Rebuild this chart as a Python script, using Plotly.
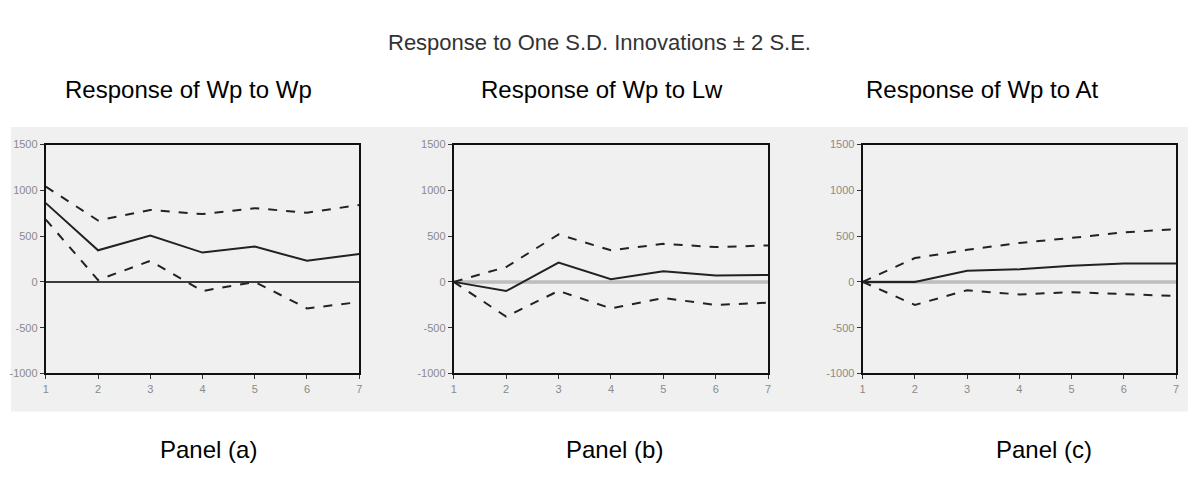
import plotly.graph_objects as go

# page is 1199x479; the html body has an 8px margin, so the figure is 16px smaller
PAGE_W, PAGE_H = 1199, 479
OFF = 8
W, H = PAGE_W - 2 * OFF, PAGE_H - 2 * OFF


def px(x):
    return (x - OFF) / W


def py(y):
    return 1 - (y - OFF) / H


periods = [1, 2, 3, 4, 5, 6, 7]
zero = [0, 0, 0, 0, 0, 0, 0]

# Panel (a): Response of Wp to Wp
a_resp = [860, 345, 505, 320, 385, 230, 305]
a_upper = [1040, 670, 785, 740, 805, 755, 840]
a_lower = [680, 20, 230, -100, 0, -290, -220]

# Panel (b): Response of Wp to Lw
b_resp = [0, -100, 210, 28, 115, 70, 75]
b_upper = [0, 162, 518, 345, 415, 380, 398]
b_lower = [0, -380, -98, -290, -176, -252, -227]

# Panel (c): Response of Wp to At
c_resp = [0, 0, 122, 137, 177, 202, 202]
c_upper = [0, 260, 350, 425, 480, 542, 574]
c_lower = [0, -252, -91, -138, -112, -134, -155]

y_ticks = [-1000, -500, 0, 500, 1000, 1500]
y_ticktext = ["-1000", "-500", "0", "500", "1000", "1500"]

title = "Response to One S.D. Innovations \u00b1 2 S.E."
subtitles = ["Response of Wp to Wp", "Response of Wp to Lw", "Response of Wp to At"]
panel_labels = ["Panel (a)", "Panel (b)", "Panel (c)"]

panels = [
    (a_resp, a_upper, a_lower, "black", 1.5),
    (b_resp, b_upper, b_lower, "#bdbdbd", 3.5),
    (c_resp, c_upper, c_lower, "#bdbdbd", 3.5),
]

# pixel layout (page coordinates)
x_px = [(43, 358), (453, 769), (864, 1179)]
y_px = (142, 377)
sub_cx = [186, 602, 984]
lab_cx = [207, 615, 1046]

fig = go.Figure()

for i, (resp, up, lo, zc, zw) in enumerate(panels):
    n = "" if i == 0 else str(i + 1)
    xa, ya = "x" + n, "y" + n
    fig.add_trace(go.Scatter(x=periods, y=zero, mode="lines", xaxis=xa, yaxis=ya,
                             line=dict(color=zc, width=zw), hoverinfo="skip", showlegend=False))
    fig.add_trace(go.Scatter(x=periods, y=up, mode="lines", xaxis=xa, yaxis=ya,
                             line=dict(color="#222", width=2, dash="dash"), showlegend=False))
    fig.add_trace(go.Scatter(x=periods, y=lo, mode="lines", xaxis=xa, yaxis=ya,
                             line=dict(color="#222", width=2, dash="dash"), showlegend=False))
    fig.add_trace(go.Scatter(x=periods, y=resp, mode="lines", xaxis=xa, yaxis=ya,
                             line=dict(color="#222", width=2), showlegend=False))

    x0, x1 = x_px[i]
    common = dict(showline=True, linecolor="#111", linewidth=2, mirror=True,
                  ticks="outside", ticklen=4, tickcolor="#333", tickwidth=1,
                  showgrid=False, zeroline=False,
                  tickfont=dict(family="Liberation Sans, Arial", size=11, color="#8a8a8a"))
    fig.layout["xaxis" + n] = dict(domain=[px(x0), px(x1)], range=[1, 7],
                                   tickvals=periods, ticktext=[str(p) for p in periods],
                                   anchor=ya, **common)
    fig.layout["yaxis" + n] = dict(domain=[py(y_px[1]), py(y_px[0])], range=[-1000, 1500],
                                   tickvals=y_ticks, ticktext=y_ticktext,
                                   anchor=xa, **common)

# grey band behind panels
fig.add_shape(type="rect", xref="paper", yref="paper", x0=0, x1=1,
              y0=py(416), y1=py(124), fillcolor="#f0f0f0", line=dict(width=0), layer="below")

ann = []
ann.append(dict(text=title, x=px(600), y=py(37), xref="paper", yref="paper",
                showarrow=False, xanchor="center", yanchor="middle",
                font=dict(family="Liberation Sans, Arial", size=22, color="#333333")))
for cx, t in zip(sub_cx, subtitles):
    ann.append(dict(text=t, x=px(cx), y=py(86), xref="paper", yref="paper",
                    showarrow=False, xanchor="center", yanchor="middle",
                    font=dict(family="Liberation Sans, Arial", size=24, color="black")))
for cx, t in zip(lab_cx, panel_labels):
    ann.append(dict(text=t, x=px(cx), y=py(455), xref="paper", yref="paper",
                    showarrow=False, xanchor="center", yanchor="middle",
                    font=dict(family="Liberation Sans, Arial", size=24, color="black")))

fig.update_layout(width=W, height=H, margin=dict(l=0, r=0, t=0, b=0),
                  paper_bgcolor="white", plot_bgcolor="#f4f4f4",
                  annotations=ann, showlegend=False)

fig.write_html("out.html", config={"displayModeBar": False})
